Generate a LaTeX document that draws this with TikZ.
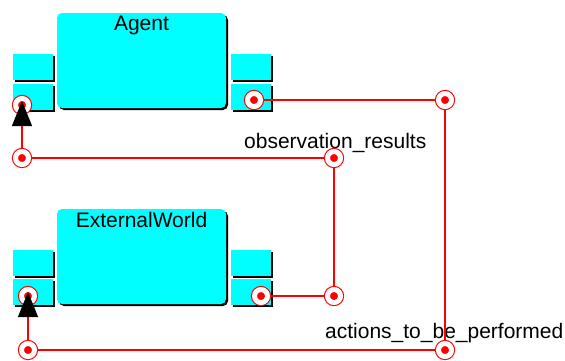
\documentclass[tikz,border=0pt]{standalone}
\usepackage{fontspec}
\setmainfont{Liberation Sans}
\usetikzlibrary{shadows,arrows.meta}
\definecolor{boxcyan}{RGB}{0,255,255}
\definecolor{wirered}{RGB}{255,0,0}
\pgfdeclarelayer{wires}
\pgfdeclarelayer{markers}
\pgfdeclarelayer{top}
\pgfsetlayers{main,wires,markers,top}
\begin{document}
\begin{tikzpicture}[x=1pt,y=-1pt,
  shadowed/.style={drop shadow={shadow xshift=2pt,shadow yshift=-2pt,fill=black,opacity=1}},
  mainbox/.style={rectangle, rounded corners=5pt, fill=boxcyan, inner sep=0pt,
    minimum width=169pt, minimum height=95pt, shadowed},
  portbox/.style={rectangle, fill=boxcyan, inner sep=0pt,
    minimum width=40pt, minimum height=26pt, shadowed},
  marker/.style={circle, inner sep=0pt, minimum size=13pt, fill=wirered, draw=wirered,
    line width=1.1pt, double=white, double distance=5pt},
  wire/.style={draw=wirered, line width=1.2pt},
  inarrow/.style={-{Triangle[length=25pt,width=20pt,color=black]}, shorten >=-4pt, shorten <=10pt},
  bigfont/.style={font=\fontsize{21}{25}\selectfont},
  title/.style={anchor=north, inner sep=0pt, yshift=-3pt, bigfont},
  lbl/.style={bigfont, inner sep=0pt, anchor=base west}]
\useasboundingbox (0,0) rectangle (565,360);

% Agent
\node[mainbox, label={[title]north:Agent}] (agent) at (141.5,60.5) {};
\node[portbox] (aLU) at (33,67) {};
\node[portbox] (aLL) at (33,96.5) {};
\node[portbox] (aRU) at (251,67) {};
\node[portbox] (aRL) at (251,96.5) {};

% ExternalWorld
\node[mainbox, label={[title]north:ExternalWorld}] (world) at (141.5,256.5) {};
\node[portbox] (eLU) at (33,262.5) {};
\node[portbox] (eLL) at (33,292) {};
\node[portbox] (eRU) at (251,262.5) {};
\node[portbox] (eRL) at (251,292) {};

\begin{pgfonlayer}{markers}
\node[marker] (pAin) at (22,105) {};
\node[marker] (pAout) at (254,100) {};
\node[marker] (pEin) at (28,296) {};
\node[marker] (pEout) at (261,296) {};
\node[marker] (j1) at (22,158) {};
\node[marker] (j2) at (334,158) {};
\node[marker] (j3) at (334,296) {};
\node[marker] (j4) at (445,100) {};
\node[marker] (j5) at (445,350) {};
\node[marker] (j6) at (28,350) {};
\end{pgfonlayer}

\begin{pgfonlayer}{wires}
\draw[wire] (pAout.center) -- (j4.center) -- (j5.center) -- (j6.center);
\draw[wire] (pEout.center) -- (j3.center) -- (j2.center) -- (j1.center);
\end{pgfonlayer}

\begin{pgfonlayer}{top}
\draw[wire, inarrow] (j6.center) -- (pEin.center);
\draw[wire, inarrow] (j1.center) -- (pAin.center);
\end{pgfonlayer}

\node[lbl] (obs) at (244,148) {observation\_results};
\node[lbl] (act) at (325,338) {actions\_to\_be\_performed};
\end{tikzpicture}
\end{document}
